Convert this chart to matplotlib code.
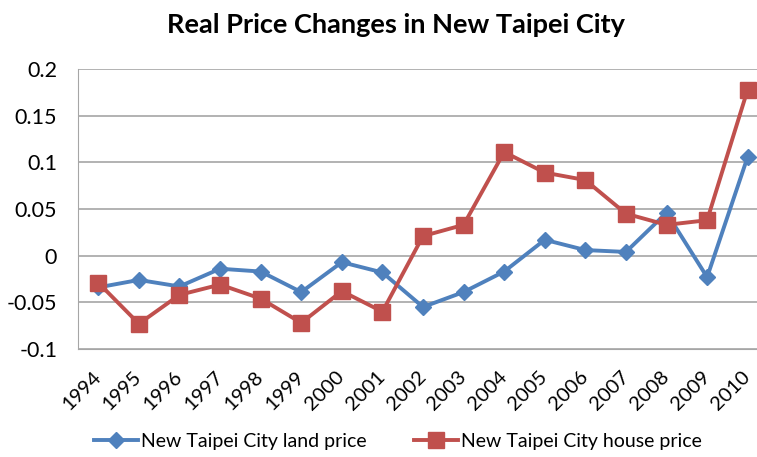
import matplotlib
matplotlib.use("Agg")
import matplotlib.pyplot as plt

plt.rcParams['font.family'] = ['Lato', 'DejaVu Sans']

years = ['1994', '1995', '1996', '1997', '1998', '1999', '2000', '2001', '2002',
         '2003', '2004', '2005', '2006', '2007', '2008', '2009', '2010']
land_price = [-0.034, -0.026, -0.033, -0.014, -0.017, -0.039, -0.007, -0.018, -0.055,
              -0.039, -0.017, 0.017, 0.006, 0.004, 0.046, -0.023, 0.106]
house_price = [-0.029, -0.073, -0.042, -0.031, -0.046, -0.072, -0.038, -0.060, 0.021,
               0.033, 0.111, 0.089, 0.081, 0.045, 0.033, 0.038, 0.178]
yticks = [-0.1, -0.05, 0, 0.05, 0.1, 0.15, 0.2]
ytick_labels = ['-0.1', '-0.05', '0', '0.05', '0.1', '0.15', '0.2']

fig = plt.figure(figsize=(7.57, 4.57), dpi=100)
ax = fig.add_axes([78 / 757, 1 - 349 / 457, 690 / 757, 280 / 457])

x = list(range(len(years)))
ax.plot(x, land_price, color='#4F81BD', lw=2.8, marker='D', markersize=8,
        label='New Taipei City land price')
ax.plot(x, house_price, color='#C0504D', lw=2.8, marker='s', markersize=11,
        label='New Taipei City house price')

ax.set_xlim(-0.5, len(years) - 0.5)
ax.set_ylim(-0.1, 0.2)
ax.set_yticks(yticks)
ax.set_yticklabels(ytick_labels, fontsize=15.5)
ax.set_xticks(x)
ax.set_xticklabels(years, fontsize=14.5, rotation=45, ha='right', va='center',
                   rotation_mode='anchor')
ax.tick_params(length=0)
ax.tick_params(axis='y', pad=15)
ax.tick_params(axis='x', pad=18)
ax.grid(axis='y', color='#A6A6A6', lw=1.2)
ax.set_axisbelow(True)
for s in ['top', 'right']:
    ax.spines[s].set_visible(False)
ax.spines['left'].set_color('#A6A6A6')
ax.spines['bottom'].set_color('#A6A6A6')

fig.text(396 / 757, 1 - 25 / 457, 'Real Price Changes in New Taipei City',
         ha='center', va='center', fontsize=19.5, fontweight='bold')

fig.legend(loc='center', bbox_to_anchor=(398 / 757, 1 - 441 / 457), ncol=2,
           frameon=False, fontsize=14, handlelength=2.3, handletextpad=0.15,
           columnspacing=2.4, borderpad=0, borderaxespad=0)

fig.savefig('out.png', dpi=100)
